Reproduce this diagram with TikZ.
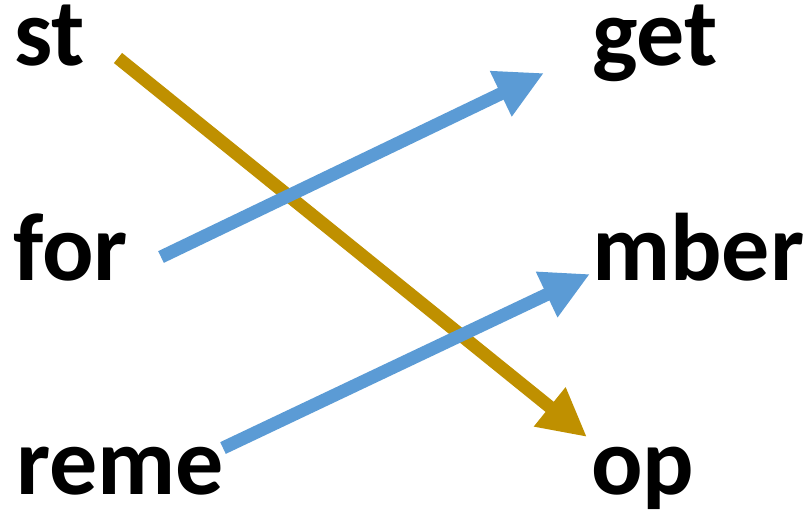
\documentclass[tikz,border=0pt]{standalone}
\usepackage{fontspec}
\setmainfont{Carlito}
\usetikzlibrary{arrows.meta}
\definecolor{goldline}{HTML}{BF9000}
\definecolor{blueline}{HTML}{5B9BD5}
\begin{document}
\begin{tikzpicture}[x=1pt,y=-1pt,
  word/.style={anchor=base west,inner sep=0pt,font=\fontsize{96}{96}\selectfont\bfseries},
  conn/.style={line width=13pt,-{Triangle[length=48pt,width=47pt]}}]
\useasboundingbox (0,0) rectangle (810,511);
\node[word] (st) at (14,65) {st};
\node[word] (for) at (13,280) {for};
\node[word] (reme) at (16,494) {reme};
\node[word] (get) at (592,65) {get};
\node[word] (mber) at (592,280) {mber};
\node[word] (op) at (591,494) {op};
\coordinate (gs) at (118,58);
\coordinate (ge) at (587,437);
\coordinate (b1s) at (161,257);
\coordinate (b1e) at (544,73);
\coordinate (b2s) at (223,448);
\coordinate (b2e) at (590,274);
\draw[conn,goldline] (gs) -- (ge);
\draw[conn,blueline] (b1s) -- (b1e);
\draw[conn,blueline] (b2s) -- (b2e);
\end{tikzpicture}
\end{document}
